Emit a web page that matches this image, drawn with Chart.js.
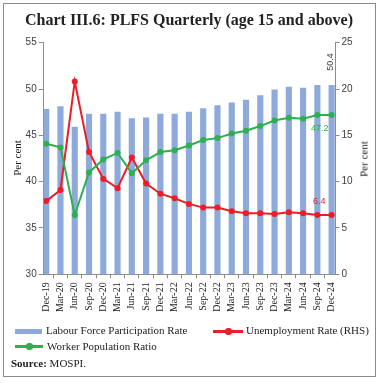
<!DOCTYPE html>
<html><head><meta charset="utf-8">
<script src="https://cdn.jsdelivr.net/npm/chart.js@4.4.1/dist/chart.umd.min.js"></script>
<style>
html,body{margin:0;padding:0;background:#fff;}
#wrap{position:relative;width:381px;height:383px;overflow:hidden;background:#fff;}
#c{position:absolute;left:0;top:0;}
.t{position:absolute;white-space:nowrap;font-family:'Liberation Serif',serif;color:#222;line-height:1;}
#frame{position:absolute;left:3px;top:3px;width:373px;height:374px;border:1px solid #8a8a8a;box-sizing:border-box;}
.sw{position:absolute;}
</style></head>
<body>
<div id="wrap">
<div id="frame"></div>
<canvas id="c" width="381" height="383"></canvas>
<div class="t" id="title" style="left:0;width:378px;text-align:center;top:12px;font-size:16px;font-weight:bold;">Chart III.6: PLFS Quarterly (age 15 and above)</div>
<div class="t" style="left:17px;top:158px;font-size:11px;transform:translate(-50%,-50%) rotate(-90deg);">Per cent</div>
<div class="t" style="left:363.5px;top:159px;font-size:11px;transform:translate(-50%,-50%) rotate(-90deg);">Per cent</div>
<div class="sw" style="left:15px;top:328.5px;width:27px;height:5px;background:#8eaadb;"></div>
<div class="t" style="left:46px;top:325px;font-size:11px;">Labour Force Participation Rate</div>
<div class="sw" style="left:213px;top:330px;width:30px;height:2.5px;background:#ee1c24;"></div>
<div class="sw" style="left:225px;top:328px;width:6.5px;height:6.5px;border-radius:50%;background:#ee1c24;"></div>
<div class="t" style="left:246px;top:325px;font-size:11px;">Unemployment Rate (RHS)</div>
<div class="sw" style="left:15px;top:345px;width:28px;height:2.5px;background:#2db04f;"></div>
<div class="sw" style="left:26px;top:343px;width:6.5px;height:6.5px;border-radius:50%;background:#2db04f;"></div>
<div class="t" style="left:47px;top:341px;font-size:11px;">Worker Population Ratio</div>
<div class="t" style="left:11px;top:358px;font-size:11px;"><b>Source:</b> MOSPI.</div>
</div>
<script>
const categories = ['Dec-19','Mar-20','Jun-20','Sep-20','Dec-20','Mar-21','Jun-21','Sep-21','Dec-21','Mar-22','Jun-22','Sep-22','Dec-22','Mar-23','Jun-23','Sep-23','Dec-23','Mar-24','Jun-24','Sep-24','Dec-24'];
const lfpr = [47.8,48.1,45.9,47.3,47.3,47.5,46.8,46.9,47.3,47.3,47.5,47.9,48.2,48.5,48.8,49.3,49.9,50.2,50.1,50.4,50.4];
const unemployment = [7.9,9.1,20.8,13.2,10.3,9.3,12.6,9.8,8.7,8.2,7.6,7.2,7.2,6.8,6.6,6.6,6.5,6.7,6.6,6.4,6.4];
const wpr = [44.1,43.7,36.4,41.0,42.4,43.1,40.9,42.3,43.2,43.4,43.9,44.5,44.7,45.2,45.5,46.0,46.6,46.9,46.8,47.2,47.2];
const leftTicks = [30,35,40,45,50,55];
const rightTicks = [0,5,10,15,20,25];

const BLUE='#8eaadb', RED='#ee1c24', GREEN='#2db04f', AX='#8c8c8c';
const pts = arr => arr.map((v,i)=>({x:i,y:v}));

const valueLabels = {
  id:'valueLabels',
  afterDatasetsDraw(chart){
    const ctx = chart.ctx, n = categories.length-1;
    const bar = chart.getDatasetMeta(0).data[n];
    const ur = chart.getDatasetMeta(1).data[n];
    const wp = chart.getDatasetMeta(2).data[n];
    ctx.save();
    ctx.font = '9px "Liberation Sans"';
    ctx.textBaseline='middle';
    ctx.fillStyle='#404040';
    ctx.save();
    ctx.translate(bar.x-1, bar.y-14.5);
    ctx.rotate(-Math.PI/2);
    ctx.textAlign='left';
    ctx.fillText(lfpr[n].toFixed(1),0,0);
    ctx.restore();
    ctx.textAlign='center';
    ctx.fillStyle=GREEN;
    ctx.fillText(wpr[n].toFixed(1), wp.x-12, wp.y+14);
    ctx.fillStyle=RED;
    ctx.fillText(unemployment[n].toFixed(1), ur.x-12.5, ur.y-13);
    ctx.restore();
  }
};

new Chart(document.getElementById('c'), {
  type:'bar',
  data:{
    datasets:[
      {type:'bar', label:'Labour Force Participation Rate', data:pts(lfpr), yAxisID:'y', backgroundColor:BLUE, barThickness:5.5, order:3},
      {type:'line', label:'Unemployment Rate (RHS)', data:pts(unemployment), yAxisID:'y1', borderColor:RED, backgroundColor:RED, borderWidth:2, pointRadius:3, pointBorderWidth:0, pointBackgroundColor:RED, order:2},
      {type:'line', label:'Worker Population Ratio', data:pts(wpr), yAxisID:'y', borderColor:GREEN, backgroundColor:GREEN, borderWidth:2, pointRadius:3, pointBorderWidth:0, pointBackgroundColor:GREEN, order:1}
    ]
  },
  options:{
    responsive:false, animation:false, devicePixelRatio:1,
    layout:{padding:{top:42.7,left:0,right:0,bottom:0}},
    plugins:{legend:{display:false}, tooltip:{enabled:false}, title:{display:false}},
    scales:{
      x:{type:'linear', min:-0.175, max:20.27, offset:false,
        afterBuildTicks:s=>{ s.ticks = categories.map((c,i)=>({value:i})); },
        afterFit:s=>{ s.height = 108.7; },
        grid:{drawOnChartArea:false, drawTicks:true, tickLength:4, color:AX},
        border:{display:true, color:AX, width:1},
        ticks:{autoSkip:false, minRotation:90, maxRotation:90, padding:4, color:'#222', font:{family:'Liberation Serif', size:10}, callback:v=>categories[v]}
      },
      y:{position:'left', min:30, max:55,
        afterBuildTicks:s=>{ s.ticks = leftTicks.map(v=>({value:v})); },
        afterFit:s=>{ s.width = 43.7; },
        grid:{drawOnChartArea:false, drawTicks:true, tickLength:5, color:AX},
        border:{display:true, color:AX, width:1},
        ticks:{padding:2, color:'#404040', font:{family:'Liberation Sans', size:10}}
      },
      y1:{position:'right', min:0, max:25,
        afterBuildTicks:s=>{ s.ticks = rightTicks.map(v=>({value:v})); },
        afterFit:s=>{ s.width = 45.5; },
        grid:{drawOnChartArea:false, drawTicks:true, tickLength:4, color:AX},
        border:{display:true, color:AX, width:1},
        ticks:{padding:2, color:'#404040', font:{family:'Liberation Sans', size:10}}
      }
    }
  },
  plugins:[valueLabels]
});
</script>
</body></html>
